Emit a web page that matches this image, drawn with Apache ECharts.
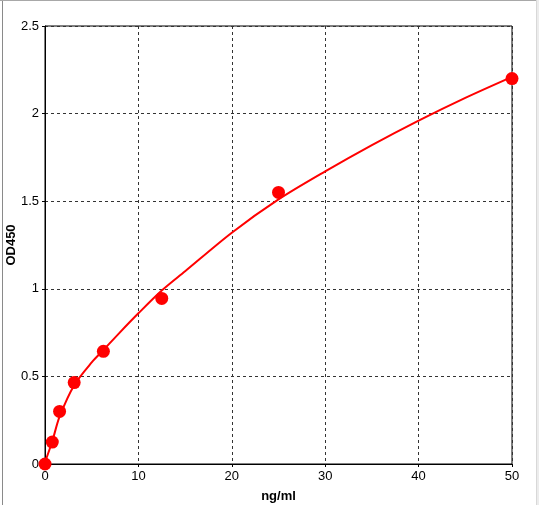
<!DOCTYPE html>
<html>
<head>
<meta charset="utf-8">
<script src="https://cdn.jsdelivr.net/npm/echarts@6/dist/echarts.min.js"></script>
<style>
html,body{margin:0;padding:0;background:#fff;}
#wrap{position:relative;width:539px;height:505px;overflow:hidden;}
#chart{position:absolute;left:0;top:0;width:539px;height:505px;}
#frameL{position:absolute;left:2px;top:0;width:1px;height:505px;background:#8a8a8a;}
#frameT{position:absolute;left:0;top:0;width:539px;height:1px;background:#a8a8a8;}
#frameR{position:absolute;left:536px;top:0;width:3px;height:505px;background:#ececec;border-left:1px solid #d8d8d8;}
</style>
</head>
<body>
<div id="wrap">
<div id="chart"></div>
<div id="frameL"></div><div id="frameT"></div><div id="frameR"></div>
</div>
<script>
// Standard points (concentration ng/ml, OD450)
const stdConc = [0, 0.78, 1.56, 3.125, 6.25, 12.5, 25, 50];
const stdOD   = [0.0, 0.125, 0.30, 0.465, 0.643, 0.945, 1.55, 2.20];
// Fitted curve
const curveConc = [0, 0.78, 1.56, 3.125, 5, 6.25, 8, 10, 12.5, 15, 20, 25, 30, 35, 40, 45, 50];
const curveOD   = [0.01, 0.13, 0.27, 0.45, 0.58, 0.65, 0.75, 0.86, 0.99, 1.10, 1.32, 1.51, 1.67, 1.82, 1.96, 2.09, 2.21];
const xTicks = {min: 0, max: 50, interval: 10};
const yTicks = {min: 0, max: 2.5, interval: 0.5};

const chart = echarts.init(document.getElementById('chart'), null, {renderer: 'canvas'});
const font = 'Liberation Sans, Arial, sans-serif';
chart.setOption({
  animation: false,
  backgroundColor: '#ffffff',
  grid: {left: 45, top: 26, width: 467, height: 438, containLabel: false, outerBoundsMode: 'none',
         show: true, borderColor: '#000', borderWidth: 1, backgroundColor: 'transparent'},
  xAxis: {
    type: 'value', min: xTicks.min, max: xTicks.max, interval: xTicks.interval,
    name: 'ng/ml', nameLocation: 'middle', nameGap: 26, nameMoveOverlap: false,
    nameTextStyle: {fontFamily: font, fontSize: 13, fontWeight: 'bold', color: '#000'},
    axisLine: {show: true, lineStyle: {color: '#000', width: 1}},
    axisTick: {show: true, length: 3, lineStyle: {color: '#000'}},
    axisLabel: {margin: 6, fontFamily: font, fontSize: 13, color: '#000'},
    splitLine: {show: true, lineStyle: {color: '#333', type: [3, 3], width: 1}}
  },
  yAxis: {
    type: 'value', min: yTicks.min, max: yTicks.max, interval: yTicks.interval,
    name: 'OD450', nameLocation: 'middle', nameGap: 27, nameMoveOverlap: false,
    nameTextStyle: {fontFamily: font, fontSize: 13, fontWeight: 'bold', color: '#000'},
    axisLine: {show: true, lineStyle: {color: '#000', width: 1}},
    axisTick: {show: true, length: 3, lineStyle: {color: '#000'}},
    axisLabel: {margin: 6, fontFamily: font, fontSize: 13, color: '#000'},
    splitLine: {show: true, lineStyle: {color: '#333', type: [3, 3], width: 1}}
  },
  series: [
    {
      type: 'line', data: curveConc.map((x, i) => [x, curveOD[i]]),
      showSymbol: false, smooth: 0.3, lineStyle: {color: '#ff0000', width: 2}, z: 2
    },
    {
      type: 'scatter', data: stdConc.map((x, i) => [x, stdOD[i]]),
      symbol: 'circle', symbolSize: 13, itemStyle: {color: '#ff0000', opacity: 1}, z: 3
    }
  ]
});
</script>
</body>
</html>
